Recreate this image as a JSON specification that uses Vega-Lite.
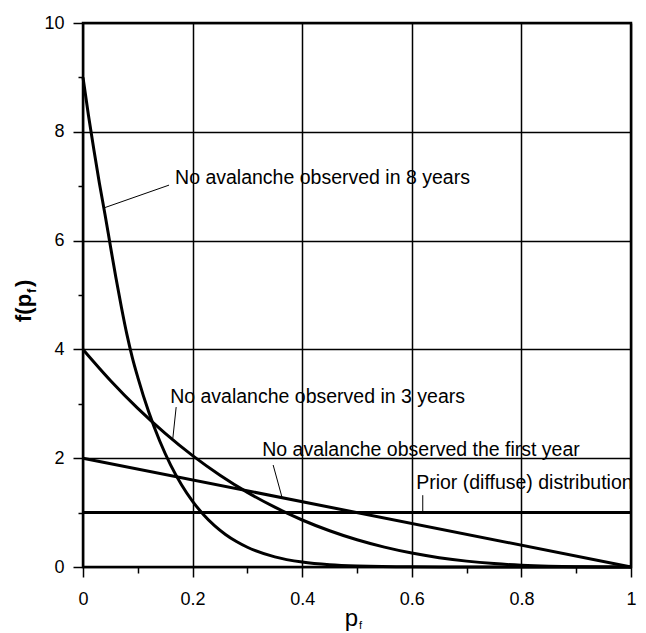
{
"$schema":"https://vega.github.io/schema/vega-lite/v6.json",
"width":548,"height":544,
"autosize":{"type":"none"},
"padding":{"left":83,"top":23,"right":15,"bottom":66},
"background":"white",
"config":{"view":{"stroke":"black","strokeWidth":2.5},"font":"Liberation Sans","text":{"font":"Liberation Sans","color":"black"}},
"datasets":{
"curves":[
{"s":"prior","p":0,"f":1},{"s":"prior","p":1,"f":1},
{"s":"y1","p":0,"f":2},{"s":"y1","p":1,"f":0},
{"s":"y3","p":0,"f":4},{"s":"y3","p":0.05,"f":3.43},{"s":"y3","p":0.1,"f":2.916},{"s":"y3","p":0.15,"f":2.457},{"s":"y3","p":0.2,"f":2.048},{"s":"y3","p":0.25,"f":1.688},{"s":"y3","p":0.3,"f":1.372},{"s":"y3","p":0.35,"f":1.099},{"s":"y3","p":0.4,"f":0.864},{"s":"y3","p":0.45,"f":0.666},{"s":"y3","p":0.5,"f":0.5},{"s":"y3","p":0.55,"f":0.365},{"s":"y3","p":0.6,"f":0.256},{"s":"y3","p":0.65,"f":0.172},{"s":"y3","p":0.7,"f":0.108},{"s":"y3","p":0.75,"f":0.0625},{"s":"y3","p":0.8,"f":0.032},{"s":"y3","p":0.85,"f":0.0135},{"s":"y3","p":0.9,"f":0.004},{"s":"y3","p":0.95,"f":0.0005},{"s":"y3","p":1,"f":0},
{"s":"y8","p":0,"f":9},{"s":"y8","p":0.01,"f":8.3},{"s":"y8","p":0.02,"f":7.66},{"s":"y8","p":0.03,"f":7.05},{"s":"y8","p":0.04,"f":6.49},{"s":"y8","p":0.05,"f":5.9},{"s":"y8","p":0.06,"f":5.32},{"s":"y8","p":0.07,"f":4.78},{"s":"y8","p":0.08,"f":4.28},{"s":"y8","p":0.09,"f":3.85},{"s":"y8","p":0.1,"f":3.487},{"s":"y8","p":0.12,"f":2.848},{"s":"y8","p":0.14,"f":2.316},{"s":"y8","p":0.16,"f":1.874},{"s":"y8","p":0.18,"f":1.509},{"s":"y8","p":0.2,"f":1.208},{"s":"y8","p":0.22,"f":0.962},{"s":"y8","p":0.24,"f":0.761},{"s":"y8","p":0.26,"f":0.599},{"s":"y8","p":0.28,"f":0.468},{"s":"y8","p":0.3,"f":0.363},{"s":"y8","p":0.35,"f":0.187},{"s":"y8","p":0.4,"f":0.091},{"s":"y8","p":0.45,"f":0.041},{"s":"y8","p":0.5,"f":0.018},{"s":"y8","p":0.6,"f":0.0024},{"s":"y8","p":0.7,"f":0.0002},{"s":"y8","p":0.8,"f":0},{"s":"y8","p":0.9,"f":0},{"s":"y8","p":1,"f":0}
],
"labels":[
{"p":0.168,"f":7.15,"label":"No avalanche observed in 8 years"},
{"p":0.159,"f":3.125,"label":"No avalanche observed in 3 years"},
{"p":0.327,"f":2.15,"label":"No avalanche observed the first year"},
{"p":0.608,"f":1.544,"label":"Prior (diffuse) distribution"}
],
"leaders":[
{"p":0.157,"f":7.02,"p2":0.038,"f2":6.6},
{"p":0.17,"f":2.94,"p2":0.164,"f2":2.37},
{"p":0.347,"f":1.875,"p2":0.363,"f2":1.287},
{"p":0.62,"f":1.32,"p2":0.62,"f2":1.0}
],
"xtitle":[{"p":0.5,"f":0}],
"ytitle":[{"p":0,"f":5}]
},
"encoding":{
  "x":{"field":"p","type":"quantitative","scale":{"domain":[0,1],"nice":false,"zero":false},
   "axis":{"values":[0,0.1,0.2,0.3,0.4,0.5,0.6,0.7,0.8,0.9,1],"title":null,"domain":false,"grid":true,"gridColor":"black","gridWidth":1.5,
    "gridOpacity":{"condition":{"test":"round(datum.value*10)%2==1","value":0},"value":1},
    "tickColor":"black","tickWidth":1.5,
    "tickSize":{"condition":{"test":"round(datum.value*10)%2==1","value":6},"value":10},
    "labelExpr":"round(datum.value*10)%2==1 ? '' : format(datum.value,'~g')",
    "labelFont":"Liberation Sans","labelFontSize":18,"labelColor":"black","labelPadding":13,"labelFlush":false,"labelOverlap":false}},
  "y":{"field":"f","type":"quantitative","scale":{"domain":[0,10],"nice":false},
   "axis":{"values":[0,1,2,3,4,5,6,7,8,9,10],"title":null,"domain":false,"grid":true,"gridColor":"black","gridWidth":1.5,
    "gridOpacity":{"condition":{"test":"datum.value%2==1","value":0},"value":1},
    "tickColor":"black","tickWidth":1.5,
    "tickSize":{"condition":{"test":"datum.value%2==1","value":5},"value":10},
    "labelExpr":"datum.value%2==1 ? '' : format(datum.value,'d')",
    "labelFont":"Liberation Sans","labelFontSize":18,"labelColor":"black","labelPadding":9,"labelFlush":false,"labelOverlap":false}}
},
"layer":[
{"data":{"name":"curves"},
 "mark":{"type":"line","color":"black","strokeWidth":3,"interpolate":"monotone"},
 "encoding":{"detail":{"field":"s"}}},
{"data":{"name":"leaders"},
 "mark":{"type":"rule","color":"black","strokeWidth":1},
 "encoding":{"x2":{"field":"p2"},"y2":{"field":"f2"}}},
{"data":{"name":"labels"},
 "mark":{"type":"text","align":"left","baseline":"middle","fontSize":19.5},
 "encoding":{"text":{"field":"label"}}},
{"data":{"name":"xtitle"},
 "mark":{"type":"text","text":"p","fontSize":24,"align":"right","baseline":"alphabetic","dx":1,"dy":59},
 "encoding":{}},
{"data":{"name":"xtitle"},
 "mark":{"type":"text","text":"f","fontSize":11,"align":"left","baseline":"alphabetic","dx":2,"dy":62},
 "encoding":{}},
{"data":{"name":"ytitle"},
 "mark":{"type":"text","text":"f(p","fontSize":22,"fontWeight":"bold","angle":270,"align":"left","baseline":"alphabetic","dx":-27,"dy":-52},
 "encoding":{}},
{"data":{"name":"ytitle"},
 "mark":{"type":"text","text":"f","fontSize":13,"fontWeight":"bold","angle":270,"align":"left","baseline":"alphabetic","dx":2,"dy":-47},
 "encoding":{}},
{"data":{"name":"ytitle"},
 "mark":{"type":"text","text":")","fontSize":22,"fontWeight":"bold","angle":270,"align":"left","baseline":"alphabetic","dx":8,"dy":-52},
 "encoding":{}}
]
}
